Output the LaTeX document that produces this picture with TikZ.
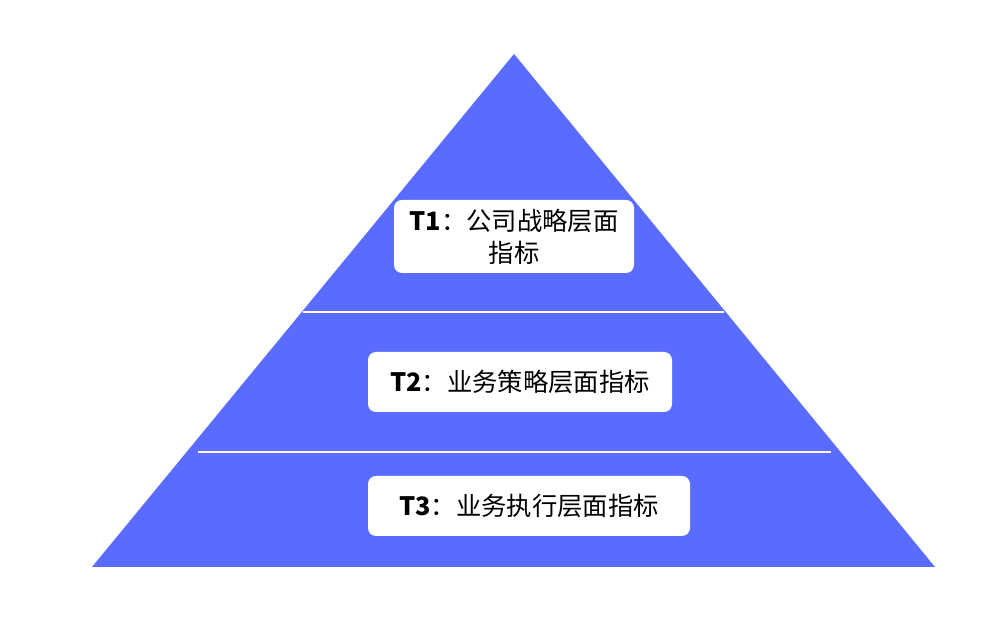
\documentclass[tikz,border=0pt]{standalone}
\usepackage{fontspec}
\setmainfont{Noto Sans CJK SC}
\usepackage{tikz}
\usepackage{xcolor}
\definecolor{pyrblue}{RGB}{89,108,255}

\begin{document}
\begin{tikzpicture}[x=7.5pt, y=7.5pt, tierbox/.style={fill=white, rounded corners=6pt, align=center, inner sep=0pt, font=\fontsize{19}{24}\selectfont}]
  \useasboundingbox (0,0) rectangle (99,62);
  \fill[pyrblue] (51.4,56.6) -- (93.5,5.3) -- (9.2,5.3) -- cycle;
  \draw[white, line width=1.5pt] (30.3,30.8) -- (72.4,30.8); \draw[white, line width=1.5pt] (19.8,16.8) -- (83.1,16.8);
  \node[tierbox, minimum width=180pt, minimum height=54.75pt] (t1) at (51.4,38.35) {\textbf{T1}：公司战略层面\\指标};
  \node[tierbox, minimum width=228pt, minimum height=45pt] (t2) at (52.0,23.8) {\textbf{T2}：业务策略层面指标};
  \node[tierbox, minimum width=241.5pt, minimum height=45pt] (t3) at (52.9,11.4) {\textbf{T3}：业务执行层面指标};
\end{tikzpicture}
\end{document}
